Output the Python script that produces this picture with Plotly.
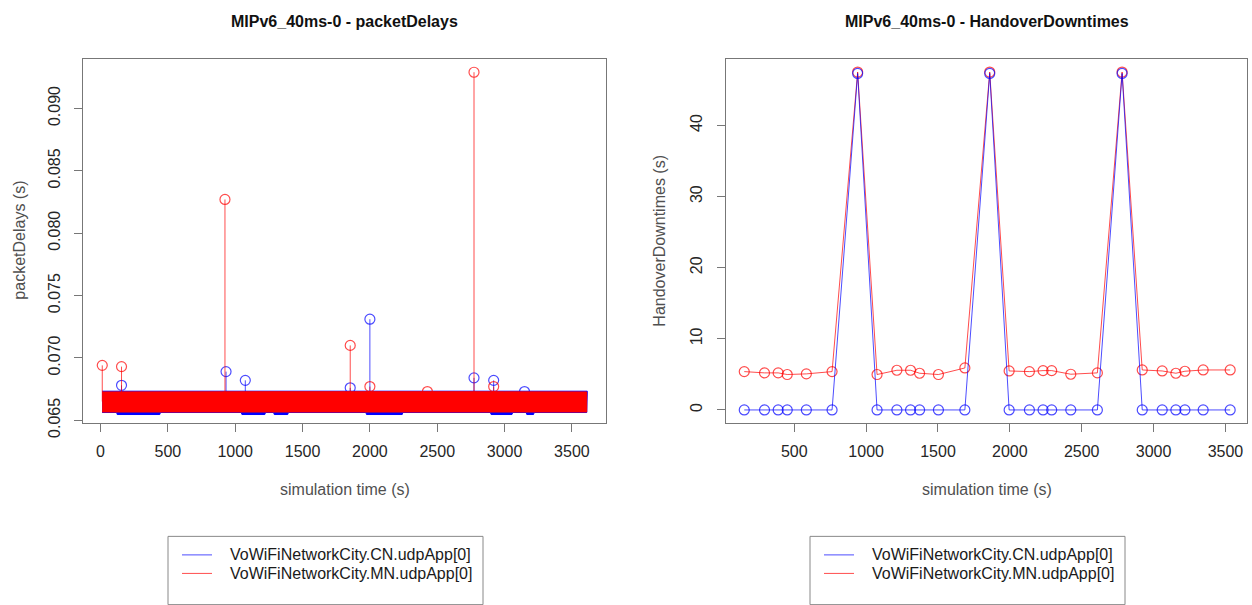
import plotly.graph_objects as go

# ---------------- data: packetDelays (left) ----------------
# dense packet-delay band read as its visible envelope (s)
pd_band_t = [12, 300, 600, 900, 1200, 1500, 1800, 2100, 2400, 2700, 3000, 3300, 3610]
mn_band_lo = [0.06566, 0.06565, 0.06566, 0.06566, 0.06565, 0.06566, 0.06566, 0.06565, 0.06566, 0.06566, 0.06565, 0.06566, 0.06566]
mn_band_hi = [0.06727, 0.06729, 0.06729, 0.06728, 0.06729, 0.06730, 0.06729, 0.06728, 0.06729, 0.06729, 0.06728, 0.06729, 0.06727]

cn_band_t = [12, 120, 124, 440, 445, 1045, 1050, 1220, 1225, 1285, 1290, 1390, 1395,
             1970, 1975, 2240, 2245, 2895, 2900, 3055, 3060, 3160, 3165, 3215, 3220, 3610]
cn_band_lo = [0.06562, 0.06562, 0.06546, 0.06546, 0.06562, 0.06562, 0.06546, 0.06546, 0.06562, 0.06562,
              0.06546, 0.06546, 0.06562, 0.06562, 0.06546, 0.06546, 0.06562, 0.06562, 0.06546, 0.06546,
              0.06562, 0.06562, 0.06546, 0.06546, 0.06562, 0.06562]
cn_band_hi = [0.06733, 0.06733]
cn_band_hi_t = [3614, 12]

band_level = 0.0665

cn_spike_t = [156, 932, 1075, 1854, 2000, 2773, 2919, 3148]
cn_spike_v = [0.0678, 0.0689, 0.0682, 0.0676, 0.0731, 0.0684, 0.0682, 0.0673]
mn_spike_t = [13, 156, 924, 1854, 2000, 2427, 2773, 2919]
mn_spike_v = [0.0694, 0.0693, 0.0827, 0.0710, 0.0677, 0.0673, 0.0929, 0.0677]

pd_xticks = [0, 500, 1000, 1500, 2000, 2500, 3000, 3500]
pd_yticks = [0.065, 0.070, 0.075, 0.080, 0.085, 0.090]
pd_ytick_labels = ["0.065", "0.070", "0.075", "0.080", "0.085", "0.090"]

# ---------------- data: HandoverDowntimes (right) ----------------
ho_t = [152, 293, 388, 451, 584, 763, 941, 1076, 1214, 1309, 1372, 1503, 1687, 1860,
        1995, 2136, 2231, 2291, 2424, 2609, 2781, 2921, 3060, 3155, 3218, 3345, 3533]
cn_ho = [0, 0, 0, 0, 0, 0, 47.3, 0, 0, 0, 0, 0, 0, 47.3,
         0, 0, 0, 0, 0, 0, 47.3, 0, 0, 0, 0, 0, 0]
mn_ho = [5.39, 5.21, 5.21, 4.98, 5.07, 5.39, 47.5, 4.98, 5.58, 5.58, 5.16, 4.98, 5.90, 47.5,
         5.48, 5.39, 5.53, 5.53, 5.02, 5.21, 47.5, 5.62, 5.48, 5.16, 5.44, 5.62, 5.62]
ho_xticks = [500, 1000, 1500, 2000, 2500, 3000, 3500]
ho_yticks = [0, 10, 20, 30, 40]

series_names = ["VoWiFiNetworkCity.CN.udpApp[0]", "VoWiFiNetworkCity.MN.udpApp[0]"]

# ---------------- styles ----------------
W, H = 1252, 605
BLUE = "#0000ff"
RED = "#ff0000"
BLUE_A = "rgba(0,0,255,0.7)"
RED_A = "rgba(255,0,0,0.7)"
FONT = "Liberation Sans, Arial, Helvetica, sans-serif"
AXC = "#777777"
TICKC = "#262626"
LABC = "#505050"

def px_x(p):
    return p / W

def px_y(p):
    return 1 - p / H

fig = go.Figure()

# ---- left: CN band (under) ----
fig.add_trace(go.Scatter(
    x=cn_band_t + cn_band_hi_t, y=cn_band_lo + cn_band_hi,
    mode="lines", fill="toself", fillcolor=BLUE, line=dict(color=BLUE, width=1),
    xaxis="x", yaxis="y", showlegend=False, hoverinfo="skip"))
sx, sy = [], []
for t, v in zip(cn_spike_t, cn_spike_v):
    sx += [t, t, None]
    sy += [band_level, v, None]
fig.add_trace(go.Scatter(x=sx, y=sy, mode="lines", line=dict(color=BLUE_A, width=1),
                         xaxis="x", yaxis="y", showlegend=False))
fig.add_trace(go.Scatter(x=cn_spike_t, y=cn_spike_v, mode="markers",
                         marker=dict(symbol="circle-open", size=10, color=BLUE_A, line=dict(width=1.2)),
                         xaxis="x", yaxis="y", showlegend=False))

# ---- left: MN band ----
fig.add_trace(go.Scatter(
    x=pd_band_t + pd_band_t[::-1], y=mn_band_hi + mn_band_lo[::-1],
    mode="lines", fill="toself", fillcolor=RED, line=dict(color=RED, width=1),
    xaxis="x", yaxis="y", showlegend=False, hoverinfo="skip"))
sx, sy = [], []
for t, v in zip(mn_spike_t, mn_spike_v):
    sx += [t, t, None]
    sy += [band_level, v, None]
fig.add_trace(go.Scatter(x=sx, y=sy, mode="lines", line=dict(color=RED_A, width=1),
                         xaxis="x", yaxis="y", showlegend=False))
fig.add_trace(go.Scatter(x=mn_spike_t, y=mn_spike_v, mode="markers",
                         marker=dict(symbol="circle-open", size=10, color=RED_A, line=dict(width=1.2)),
                         xaxis="x", yaxis="y", showlegend=False))

# ---- right: handover downtimes ----
fig.add_trace(go.Scatter(x=ho_t, y=mn_ho, mode="lines+markers", name=series_names[1],
                         line=dict(color=RED_A, width=1),
                         marker=dict(symbol="circle-open", size=10, color=RED_A, line=dict(width=1.2)),
                         xaxis="x2", yaxis="y2", showlegend=False))
fig.add_trace(go.Scatter(x=ho_t, y=cn_ho, mode="lines+markers", name=series_names[0],
                         line=dict(color=BLUE_A, width=1),
                         marker=dict(symbol="circle-open", size=10, color=BLUE_A, line=dict(width=1.2)),
                         xaxis="x2", yaxis="y2", showlegend=False))

ydom = [px_y(433.5), px_y(60)]
axis_common = dict(showgrid=False, zeroline=False, showline=True, mirror=True,
                   linecolor=AXC, linewidth=1, ticks="outside", ticklen=8,
                   tickcolor=AXC, tickwidth=1,
                   tickfont=dict(family=FONT, size=16, color=TICKC))

fig.update_layout(
    width=W, height=H, margin=dict(l=0, r=0, t=0, b=0),
    paper_bgcolor="white", plot_bgcolor="white", showlegend=False,
    xaxis=dict(domain=[px_x(83), px_x(606)], range=[-130, 3753], tickvals=pd_xticks,
               anchor="y", ticklabelstandoff=6, **axis_common),
    yaxis=dict(domain=ydom, range=[0.0648, 0.0940], tickvals=pd_yticks, ticktext=pd_ytick_labels,
               tickangle=-90, anchor="x", ticklabelstandoff=8, **axis_common),
    xaxis2=dict(domain=[px_x(726), px_x(1247)], range=[25, 3650], tickvals=ho_xticks,
                anchor="y2", ticklabelstandoff=6, **axis_common),
    yaxis2=dict(domain=ydom, range=[-1.8, 49.4], tickvals=ho_yticks,
                tickangle=-90, anchor="x2", ticklabelstandoff=9, **axis_common),
)

# legends (drawn as frame + key lines + text, R style)
ann = []
for bx0, bx1 in [(168, 483), (810, 1125)]:
    fig.add_shape(type="rect", xref="paper", yref="paper",
                  x0=px_x(bx0), x1=px_x(bx1), y0=px_y(620), y1=px_y(550),
                  line=dict(color="#888888", width=1), fillcolor="rgba(0,0,0,0)")
    for ry, name, col in zip([569, 588], series_names, [BLUE_A, RED_A]):
        fig.add_shape(type="line", xref="paper", yref="paper",
                      x0=px_x(bx0 + 14), x1=px_x(bx0 + 44), y0=px_y(ry), y1=px_y(ry),
                      line=dict(color=col, width=1))
        ann.append(dict(x=px_x(bx0 + 60), y=px_y(ry), xref="paper", yref="paper", text=name,
                        showarrow=False, xanchor="left", yanchor="middle",
                        font=dict(family=FONT, size=16, color="#1a1a1a")))

for cx, title, xt in [(344.5, "MIPv6_40ms-0 - packetDelays", "simulation time (s)"),
                      (986.5, "MIPv6_40ms-0 - HandoverDowntimes", "simulation time (s)")]:
    ann.append(dict(x=px_x(cx), y=px_y(22), xref="paper", yref="paper", text="<b>%s</b>" % title,
                    showarrow=False, xanchor="center", yanchor="middle",
                    font=dict(family=FONT, size=16, color="#111111")))
    ann.append(dict(x=px_x(cx), y=px_y(502), xref="paper", yref="paper", text=xt,
                    showarrow=False, xanchor="center", yanchor="middle",
                    font=dict(family=FONT, size=16, color=LABC)))
for cx, yt in [(20, "packetDelays (s)"), (660, "HandoverDowntimes (s)")]:
    ann.append(dict(x=px_x(cx), y=px_y(246.75), xref="paper", yref="paper", text=yt, textangle=-90,
                    showarrow=False, xanchor="center", yanchor="middle",
                    font=dict(family=FONT, size=16, color=LABC)))
fig.update_layout(annotations=ann)

fig.write_html("out.html")
